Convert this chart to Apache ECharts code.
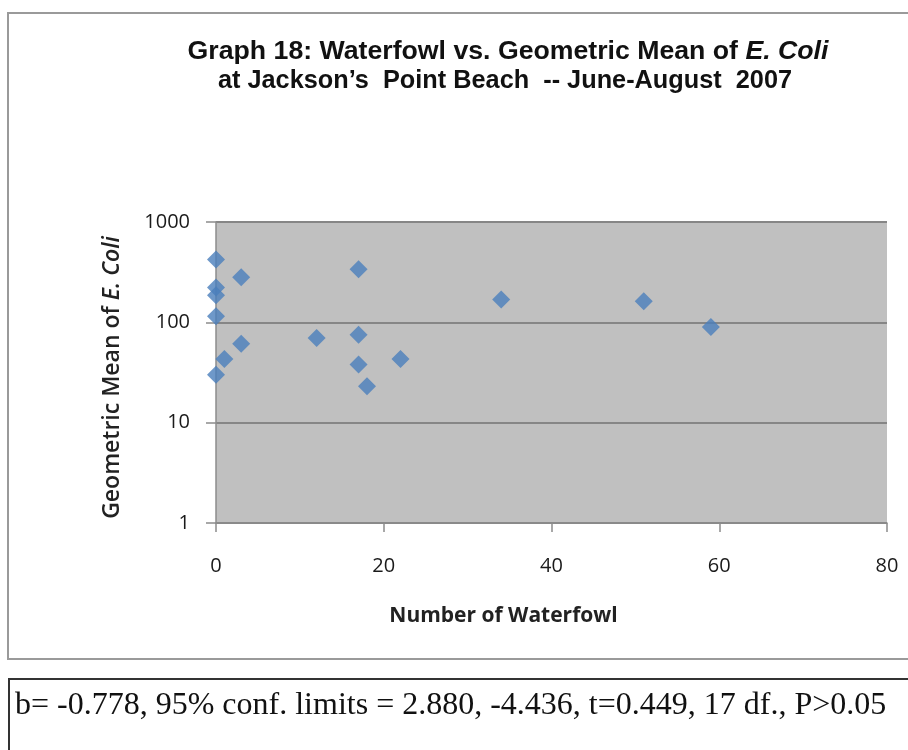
<!DOCTYPE html>
<html><head><meta charset="utf-8">
<style>html,body{margin:0;padding:0;background:#fff;}#c{width:908px;height:750px;}</style>
<script src="https://cdn.jsdelivr.net/npm/echarts@6/dist/echarts.min.js"></script>
</head><body><div id="c"></div>
<script>
// Number of waterfowl (x) and geometric mean of E. coli (y)
const waterfowl = [0, 0, 0, 0, 0, 1, 3, 3, 12, 17, 17, 17, 18, 22, 34, 51, 59];
const ecoliGeoMean = [424, 222, 186, 115, 30, 43, 282, 61, 70, 339, 75, 38, 23, 43, 169, 162, 90];
const xTicks = [0, 20, 40, 60, 80];
const yTicks = [1, 10, 100, 1000];
const titleLine1 = 'Graph 18: Waterfowl vs. Geometric Mean of ';
const titleItalic = 'E. Coli';
const titleLine2 = 'at Jackson\u2019s  Point Beach  -- June-August  2007';
const statsText = 'b= -0.778, 95% conf. limits = 2.880, -4.436, t=0.449, 17 df., P>0.05';

const points = waterfowl.map((x, i) => [x, ecoliGeoMean[i]]);
const chart = echarts.init(document.getElementById('c'), null, {renderer: 'canvas'});
const labelFont = '"Open Sans", Lato, sans-serif';
const titleFont = '"Liberation Sans", Arial, sans-serif';
chart.setOption({
  animation: false,
  backgroundColor: '#fff',
  grid: {left: 216, top: 222, right: 21, bottom: 227, show: true, backgroundColor: '#C0C0C0', borderWidth: 0},
  xAxis: {
    type: 'value', min: xTicks[0], max: xTicks[xTicks.length - 1], interval: xTicks[1] - xTicks[0],
    name: 'Number of Waterfowl', nameLocation: 'middle', nameGap: 83,
    nameTextStyle: {fontFamily: labelFont, fontSize: 21, fontWeight: 'bold', color: '#222', padding: [0, 96, 0, 0]},
    axisLine: {show: true, lineStyle: {color: '#8c8c8c', width: 1.5}},
    axisTick: {show: true, length: 9, lineStyle: {color: '#8c8c8c', width: 1.5}},
    axisLabel: {fontFamily: labelFont, fontSize: 20, color: '#1a1a1a', margin: 33},
    splitLine: {show: false}
  },
  yAxis: {
    type: 'log', logBase: 10, min: yTicks[0], max: yTicks[yTicks.length - 1],
    name: '{n|Geometric Mean of }{i|E. Coli}', nameLocation: 'middle', nameGap: 92, nameRotate: 90,
    nameTextStyle: {fontFamily: labelFont, fontSize: 23, fontWeight: 600, color: '#222', padding: [0, 10, 0, 0],
      rich: {n: {fontFamily: labelFont, fontSize: 23, fontWeight: 600, color: '#222'},
             i: {fontFamily: labelFont, fontSize: 23, fontWeight: 600, fontStyle: 'italic', color: '#222'}}},
    axisLine: {show: true, lineStyle: {color: '#8c8c8c', width: 1.5}},
    axisTick: {show: true, length: 10, inside: false, lineStyle: {color: '#8c8c8c', width: 1.5}},
    minorTick: {show: false},
    axisLabel: {fontFamily: labelFont, fontSize: 20, color: '#1a1a1a', margin: 26, formatter: v => String(Math.round(v))},
    splitLine: {show: true, lineStyle: {color: '#868686', width: 2}}
  },
  series: [{
    type: 'scatter', data: points, symbol: 'diamond', symbolSize: 18,
    itemStyle: {color: '#4A7EBB'}
  }],
  graphic: [
    {type: 'rect', shape: {x: 8, y: 13, width: 910, height: 646}, style: {fill: 'none', stroke: '#9a9a9a', lineWidth: 2}, z: -1},
    {type: 'rect', shape: {x: 9, y: 679, width: 910, height: 100}, style: {fill: 'none', stroke: '#333', lineWidth: 2}},
    {type: 'text', x: 508, y: 52, scaleX: 1.067, style: {
      text: '{n|' + titleLine1 + '}{i|' + titleItalic + '}', align: 'center', verticalAlign: 'middle',
      rich: {n: {font: 'bold 25px ' + titleFont, fill: '#111'},
             i: {font: 'italic bold 25px ' + titleFont, fill: '#111'}}
    }},
    {type: 'text', x: 505, y: 81, scaleX: 1.012, style: {
      text: titleLine2, align: 'center', verticalAlign: 'middle',
      font: 'bold 25px ' + titleFont, fill: '#111'
    }},
    {type: 'text', x: 15, y: 706, style: {
      text: statsText, align: 'left', verticalAlign: 'middle',
      font: '32px "Liberation Serif", "Times New Roman", serif', fill: '#111'
    }}
  ]
});
</script></body></html>
